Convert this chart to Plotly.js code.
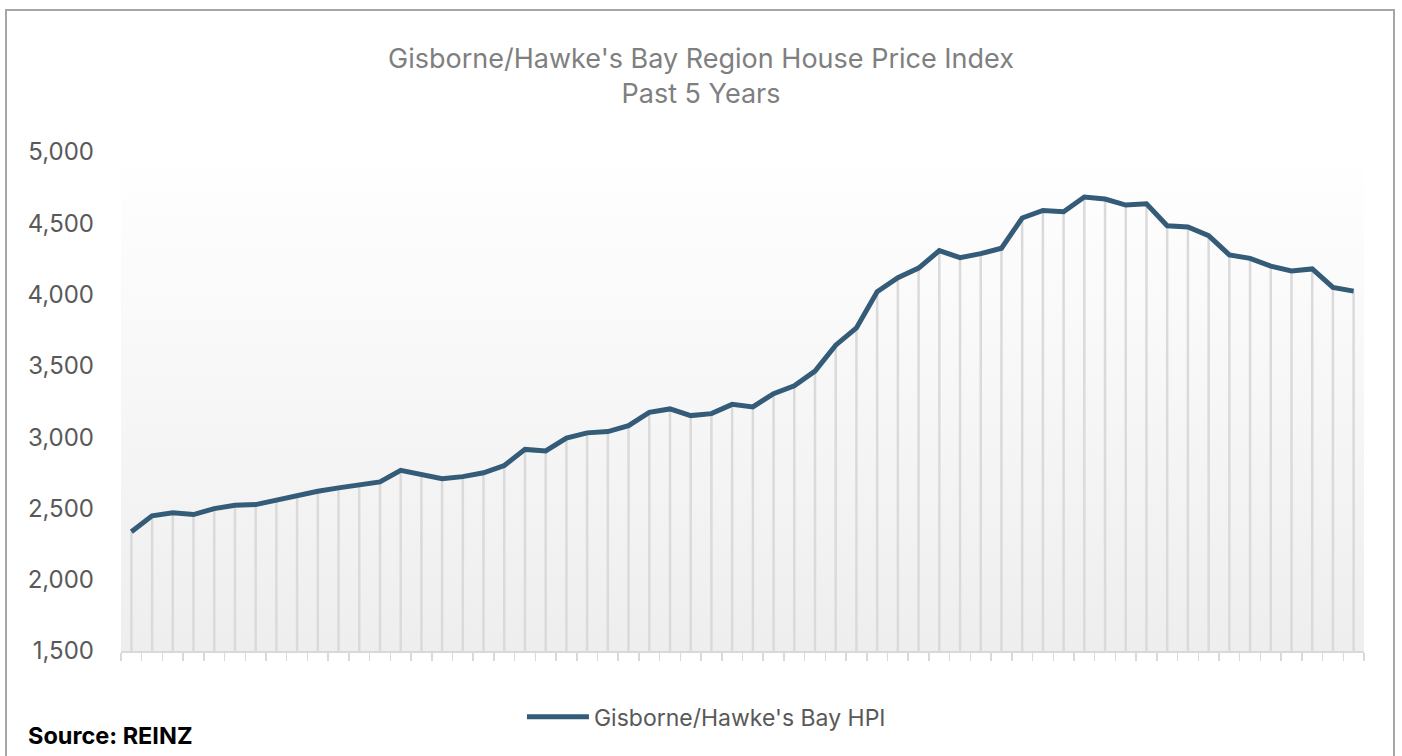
<!DOCTYPE html>
<html>
<head>
<meta charset="utf-8">
<script src="https://cdn.plot.ly/plotly-3.0.1.min.js"></script>
<style>
  html, body { margin: 0; padding: 0; background: #ffffff; overflow: hidden; }
  #chart { position: absolute; left: 0; top: 0; width: 1402px; height: 756px; }
  #frame { position: absolute; left: 5px; top: 9px; width: 1390px; height: 800px;
           border: 2px solid #a6a6a6; pointer-events: none; box-sizing: border-box; }
</style>
</head>
<body>
<div id="chart"></div>
<div id="frame"></div>
<script>
// ---- data ----
const chartTitle = "Gisborne/Hawke's Bay Region House Price Index";
const chartSubtitle = "Past 5 Years";
const seriesName = "Gisborne/Hawke's Bay HPI";
const sourceText = "Source: REINZ";

// monthly index values, oldest to newest (60 months)
const hpiValues = [
  2336, 2448, 2469, 2457, 2499, 2522, 2527, 2557, 2595, 2620,
  2644, 2667, 2686, 2767, 2736, 2709, 2723, 2750, 2801, 2914,
  2903, 2993, 3030, 3039, 3081, 3174, 3198, 3151, 3165, 3230,
  3212, 3305, 3360, 3463, 3645, 3766, 4020, 4118, 4186, 4308,
  4259, 4287, 4325, 4537, 4590, 4581, 4684, 4670, 4628, 4637,
  4483, 4474, 4413, 4278, 4254, 4199, 4166, 4180, 4050, 4024
];
const monthIndex = hpiValues.map((v, i) => i + 1);

const yMin = 1500;
const yMax = 5000;
const yStep = 500;

// drop lines from each point to the axis floor
const dropLengths = hpiValues.map(v => v - yMin);

const gradSvg = '<svg xmlns="http://www.w3.org/2000/svg" width="10" height="100" preserveAspectRatio="none">' +
  '<defs><linearGradient id="g" x1="0" y1="0" x2="0" y2="1">' +
  '<stop offset="0" stop-color="#ffffff"/><stop offset="1" stop-color="#eeeeee"/>' +
  '</linearGradient></defs><rect width="10" height="100" fill="url(#g)"/></svg>';
const gradUrl = 'data:image/svg+xml;charset=utf-8,' + encodeURIComponent(gradSvg);

const FONT = 'Inter, "Open Sans", sans-serif';

const traces = [{
  type: 'scatter',
  mode: 'lines',
  x: monthIndex,
  y: hpiValues,
  name: seriesName,
  line: { color: '#345b77', width: 5, shape: 'linear' },
  error_y: {
    type: 'data', symmetric: false,
    array: hpiValues.map(() => 0),
    arrayminus: dropLengths,
    color: '#dadada', thickness: 2.5, width: 0
  },
  hoverinfo: 'x+y'
}];

const layout = {
  width: 1402, height: 756,
  margin: { l: 121, r: 38, t: 152, b: 105 },
  paper_bgcolor: 'rgba(0,0,0,0)',
  plot_bgcolor: 'rgba(0,0,0,0)',
  font: { family: FONT, color: '#595959' },
  title: {
    text: chartTitle + '<br>' + chartSubtitle,
    font: { family: FONT, size: 27, color: '#7f7f7f' },
    x: 0.5, xanchor: 'center', xref: 'container',
    y: 1 - 67.5 / 756, yanchor: 'middle', yref: 'container'
  },
  xaxis: {
    range: [0.5, monthIndex.length + 0.5],
    tick0: 0.5, dtick: 1, tickmode: 'linear',
    showticklabels: false,
    ticks: 'outside', ticklen: 8, tickwidth: 1.5, tickcolor: '#d9d9d9',
    showline: true, linecolor: '#d9d9d9', linewidth: 2,
    showgrid: false, zeroline: false, fixedrange: true
  },
  yaxis: {
    range: [yMin, yMax],
    tick0: yMin, dtick: yStep, tickmode: 'linear',
    tickformat: ',d',
    tickfont: { family: FONT, size: 24, color: '#595959' },
    ticks: '', ticklabelstandoff: 26,
    showline: false, showgrid: false, zeroline: false, fixedrange: true
  },
  images: [{
    source: gradUrl, xref: 'paper', yref: 'paper',
    x: 0, y: 1, sizex: 1, sizey: 1, xanchor: 'left', yanchor: 'top',
    sizing: 'stretch', layer: 'below', opacity: 1
  }],
  showlegend: true,
  legend: {
    orientation: 'h', x: 0.471, xanchor: 'center', y: -0.132, yanchor: 'middle',
    font: { family: FONT, size: 23, color: '#595959' },
    itemwidth: 62, bgcolor: 'rgba(0,0,0,0)'
  },
  annotations: [{
    text: '<b>' + sourceText + '</b>',
    xref: 'paper', yref: 'paper',
    x: (26 - 121) / 1243, xanchor: 'left',
    y: (651 - 735) / 499, yanchor: 'middle',
    showarrow: false,
    font: { family: FONT, size: 23.5, color: '#000000' }
  }]
};

Plotly.newPlot('chart', traces, layout, { displayModeBar: false, staticPlot: true });
</script>
</body>
</html>
